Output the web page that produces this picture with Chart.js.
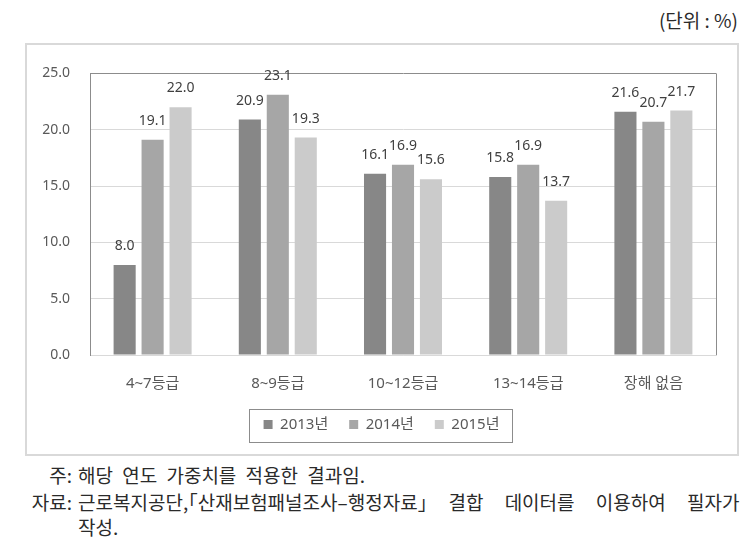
<!DOCTYPE html>
<html>
<head>
<meta charset="utf-8">
<script src="https://cdn.jsdelivr.net/npm/chart.js@4"></script>
<style>
  body { margin: 0; width: 750px; height: 550px; background: #fff; position: relative; overflow: hidden;
         font-family: "Noto Sans CJK KR", "Noto Sans", sans-serif; color: #2a2a2a; }
  #unit { position: absolute; right: 12px; top: 9px; font-size: 19px; line-height: 22px; }
  #frame { position: absolute; left: 25px; top: 43px; width: 714px; height: 413px;
           box-sizing: border-box; border: 2px solid #d9d9d9; }
  #frame canvas { position: absolute; left: 0; top: 0; }
  .note { position: absolute; font-size: 19px; line-height: 26px; white-space: nowrap; }
  .lab { left: 0; width: 72px; text-align: right; }
  .txt { left: 78px; }
  .half { font-feature-settings: "halt"; }
</style>
</head>
<body>
<div id="unit">(단위 : %)</div>
<div id="frame"><canvas id="grade-chart" width="710" height="409"></canvas></div>
<div class="note lab" style="top:462px;">주:</div>
<div class="note txt" style="top:462px; word-spacing:5px;">해당 연도 가중치를 적용한 결과임.</div>
<div class="note lab" style="top:489px;">자료:</div>
<div class="note txt" style="top:489px; word-spacing:17px;">근로복지공단,<span class="half">「</span>산재보험패널조사–행정자료<span class="half">」</span> 결합 데이터를 이용하여 필자가</div>
<div class="note txt" style="top:514px;">작성.</div>

<script>
// values
const categories = ['4~7등급', '8~9등급', '10~12등급', '13~14등급', '장해 없음'];
const years = ['2013년', '2014년', '2015년'];
const values2013 = [8.0, 20.9, 16.1, 15.8, 21.6];
const values2014 = [19.1, 23.1, 16.9, 16.9, 20.7];
const values2015 = [22.0, 19.3, 15.6, 13.7, 21.7];
const yTicks = [0, 5, 10, 15, 20, 25];

const barColors = ['#878787', '#a6a6a6', '#cbcbcb'];

// value above each bar
const valueLabels = {
  id: 'valueLabels',
  afterDatasetsDraw(chart) {
    const ctx = chart.ctx;
    ctx.save();
    ctx.font = '14px "Noto Sans", sans-serif';
    ctx.fillStyle = '#404040';
    ctx.textAlign = 'center';
    ctx.textBaseline = 'middle';
    chart.data.datasets.forEach((ds, i) => {
      chart.getDatasetMeta(i).data.forEach((bar, j) => {
        ctx.fillText(ds.data[j].toFixed(1), bar.x, bar.y - 19);
      });
    });
    ctx.restore();
  }
};

// legend sits a little right of the canvas centre in the original
const legendShift = {
  id: 'legendShift',
  afterUpdate(chart) {
    chart.legend.left += 10;
    chart.legend.right += 10;
  }
};

// right edge of the plot and box round the legend
const frameLines = {
  id: 'frameLines',
  afterDraw(chart) {
    const ctx = chart.ctx;
    const a = chart.chartArea;
    ctx.save();
    ctx.strokeStyle = '#8c8c8c';
    ctx.lineWidth = 1;
    ctx.beginPath();
    ctx.moveTo(Math.round(a.right) + 0.5, a.top);
    ctx.lineTo(Math.round(a.right) + 0.5, a.bottom);
    ctx.stroke();

    const lg = chart.legend;
    const boxes = lg.legendHitBoxes;
    if (boxes && boxes.length) {
      const pad = lg.options.labels.padding;
      const itemsWidth = lg.lineWidths[0] - pad;
      const startX = (lg.left + pad + lg.right - lg.lineWidths[0]) / 2;
      let mid = 0;
      boxes.forEach(b => { mid += b.top + b.height / 2; });
      mid /= boxes.length;
      ctx.strokeRect(Math.round(startX - 15) + 0.5, Math.round(mid - 16) + 0.5,
                     Math.round(itemsWidth + 27), 33);
    }
    ctx.restore();
  }
};

const chart = new Chart(document.getElementById('grade-chart'), {
  type: 'bar',
  data: {
    labels: categories,
    datasets: [values2013, values2014, values2015].map((vals, i) => ({
      label: years[i],
      data: vals,
      backgroundColor: barColors[i],
      categoryPercentage: 0.67,
      barPercentage: 0.79
    }))
  },
  options: {
    responsive: false,
    animation: false,
    layout: { padding: { top: 15, right: 21, left: 0, bottom: 12 } },
    plugins: {
      tooltip: { enabled: false },
      legend: {
        position: 'bottom',
        labels: {
          boxWidth: 9,
          boxHeight: 9,
          padding: 21,
          color: '#595959',
          font: { family: '"Noto Sans", "Noto Sans CJK KR", sans-serif', size: 15 }
        }
      }
    },
    scales: {
      x: {
        grid: { display: false, drawTicks: false },
        border: { color: '#d9d9d9' },
        ticks: {
          padding: 20,
          color: '#595959',
          font: { family: '"Noto Sans", "Noto Sans CJK KR", sans-serif', size: 15 }
        },
        afterFit(scale) { scale.height = 41; }
      },
      y: {
        min: 0,
        max: 25,
        afterBuildTicks(scale) { scale.ticks = yTicks.map(v => ({ value: v })); },
        grid: {
          drawTicks: false,
          color: c => c.tick && c.tick.value === 25 ? '#8c8c8c' : '#d9d9d9'
        },
        border: { color: '#8c8c8c' },
        ticks: {
          padding: 20,
          color: '#595959',
          font: { family: '"Noto Sans", sans-serif', size: 14 },
          callback: v => v.toFixed(1)
        },
        afterFit(scale) { scale.width = 63; }
      }
    }
  },
  plugins: [valueLabels, legendShift, frameLines]
});
</script>
</body>
</html>
